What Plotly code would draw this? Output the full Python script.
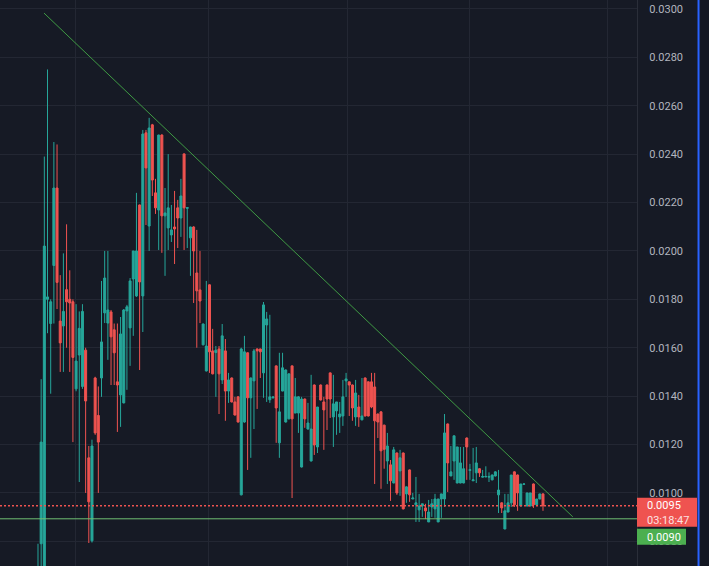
import plotly.graph_objects as go

# ---------------- data ----------------
open_ = [
    0.00620, 0.00790, 0.00600, 0.01800, 0.01700, 0.01940, 0.02260, 0.01710, 0.01690, 0.01840,
    0.01800, 0.01790, 0.01430, 0.01570, 0.01440, 0.01590, 0.01145, 0.00802, 0.01475, 0.01320,
    0.01475, 0.01744, 0.01702, 0.01748, 0.01674, 0.01459, 0.01405, 0.01372, 0.01752, 0.01682,
    0.01884, 0.01814, 0.02190, 0.01814, 0.02488, 0.02103, 0.02521, 0.02240, 0.02169, 0.02479,
    0.02145, 0.02095, 0.02066, 0.02099, 0.02178, 0.02136, 0.02401, 0.02176, 0.02054, 0.02099,
    0.01909, 0.01839, 0.01612, 0.01504, 0.01860, 0.01587, 0.01580, 0.01595, 0.01467, 0.01587,
    0.01421, 0.01475, 0.01376, 0.01397, 0.00992, 0.01293, 0.01579, 0.01393, 0.01463, 0.01595,
    0.01595, 0.01496, 0.01694, 0.01385, 0.01393, 0.01525, 0.01207, 0.01421, 0.01293, 0.01306,
    0.01525, 0.01330, 0.01330, 0.01107, 0.01388, 0.01264, 0.01132, 0.01446, 0.01190, 0.01446,
    0.01376, 0.01446, 0.01496, 0.01314, 0.01339, 0.01314, 0.01318, 0.01463, 0.01459, 0.01446,
    0.01314, 0.01355, 0.01302, 0.01475, 0.01459, 0.01459, 0.01438, 0.01326, 0.01335, 0.01280,
    0.01132, 0.01116, 0.01041, 0.01165, 0.01091, 0.01165, 0.00996, 0.01095, 0.00975, 0.00951,
    0.00930, 0.00946, 0.00938, 0.00880, 0.00942, 0.00934, 0.00880, 0.00975, 0.00975, 0.01285,
    0.01070, 0.01132, 0.01041, 0.01041, 0.01041, 0.01227, 0.01093, 0.01050, 0.01083, 0.01100,
    0.01065, 0.01066, 0.01065, 0.01054, 0.01070, 0.00992, 0.00959, 0.00851, 0.00921, 0.00959,
    0.01087, 0.01074, 0.00946, 0.01036, 0.00946, 0.00946, 0.01037, 0.00951, 0.00975, 0.00996,
]
high = [
    0.00790, 0.01470, 0.02390, 0.02750, 0.01800, 0.02450, 0.02440, 0.01900, 0.01990, 0.02110,
    0.01920, 0.01800, 0.01780, 0.01750, 0.01780, 0.01600, 0.01194, 0.01220, 0.01480, 0.01440,
    0.01876, 0.02000, 0.02000, 0.01756, 0.01700, 0.01700, 0.01727, 0.01760, 0.01777, 0.01888,
    0.02000, 0.02240, 0.02192, 0.02500, 0.02500, 0.02550, 0.02525, 0.02298, 0.02480, 0.02482,
    0.02260, 0.02400, 0.02190, 0.02248, 0.02211, 0.02298, 0.02403, 0.02180, 0.02100, 0.02102,
    0.02087, 0.02000, 0.01700, 0.01876, 0.01862, 0.01678, 0.01607, 0.01607, 0.01698, 0.01636,
    0.01496, 0.01477, 0.01397, 0.01400, 0.01600, 0.01649, 0.01581, 0.01477, 0.01595, 0.01597,
    0.01596, 0.01789, 0.01748, 0.01736, 0.01400, 0.01527, 0.01579, 0.01579, 0.01510, 0.01494,
    0.01527, 0.01475, 0.01400, 0.01397, 0.01390, 0.01372, 0.01488, 0.01448, 0.01355, 0.01448,
    0.01397, 0.01448, 0.01498, 0.01488, 0.01376, 0.01376, 0.01467, 0.01496, 0.01460, 0.01448,
    0.01467, 0.01405, 0.01475, 0.01477, 0.01461, 0.01496, 0.01496, 0.01328, 0.01337, 0.01282,
    0.01248, 0.01136, 0.01190, 0.01167, 0.01178, 0.01167, 0.01027, 0.01097, 0.01000, 0.01066,
    0.00996, 0.00955, 0.00955, 0.00971, 0.00975, 0.00996, 0.00975, 0.00996, 0.01326, 0.01287,
    0.01194, 0.01236, 0.01190, 0.01190, 0.01190, 0.01229, 0.01120, 0.01186, 0.01190, 0.01102,
    0.01095, 0.01110, 0.01085, 0.01076, 0.01089, 0.01095, 0.00961, 0.00996, 0.00996, 0.01074,
    0.01089, 0.01076, 0.01037, 0.01038, 0.01000, 0.01000, 0.01039, 0.00975, 0.00996, 0.00998,
]
low = [
    0.00600, 0.00650, 0.00550, 0.01660, 0.01410, 0.01700, 0.01760, 0.01500, 0.01500, 0.01600,
    0.01500, 0.01210, 0.01420, 0.01045, 0.01430, 0.01000, 0.00793, 0.00795, 0.01240, 0.01000,
    0.01397, 0.01702, 0.01550, 0.01446, 0.01446, 0.01252, 0.01273, 0.01370, 0.01426, 0.01525,
    0.01649, 0.01810, 0.01508, 0.01665, 0.02107, 0.02000, 0.02227, 0.02153, 0.02004, 0.01992,
    0.01897, 0.02004, 0.02037, 0.01946, 0.02012, 0.02058, 0.02004, 0.02012, 0.01897, 0.01785,
    0.01600, 0.01702, 0.01610, 0.01502, 0.01496, 0.01490, 0.01397, 0.01326, 0.01450, 0.01298,
    0.01372, 0.01374, 0.01320, 0.01291, 0.00990, 0.01290, 0.01095, 0.01145, 0.01264, 0.01347,
    0.01475, 0.01393, 0.01376, 0.01372, 0.01390, 0.01207, 0.01145, 0.01420, 0.01291, 0.01304,
    0.00979, 0.01330, 0.01248, 0.01105, 0.01269, 0.01262, 0.01130, 0.01157, 0.01165, 0.01382,
    0.01178, 0.01260, 0.01310, 0.01190, 0.01240, 0.01248, 0.01277, 0.01397, 0.01318, 0.01298,
    0.01277, 0.01273, 0.01300, 0.01316, 0.01316, 0.01350, 0.01037, 0.01227, 0.01017, 0.01100,
    0.01037, 0.00967, 0.01040, 0.00992, 0.00988, 0.00932, 0.00959, 0.00963, 0.00974, 0.00880,
    0.00880, 0.00901, 0.00892, 0.00880, 0.00901, 0.00897, 0.00880, 0.00897, 0.00942, 0.01004,
    0.01070, 0.01054, 0.01040, 0.01040, 0.01040, 0.01054, 0.01054, 0.01050, 0.01041, 0.01066,
    0.01064, 0.01065, 0.01045, 0.01052, 0.01068, 0.00917, 0.00917, 0.00850, 0.00920, 0.00942,
    0.00942, 0.00926, 0.00945, 0.01035, 0.00945, 0.00945, 0.00938, 0.00950, 0.00974, 0.00926,
]
close = [
    0.00680, 0.01210, 0.02020, 0.01810, 0.01790, 0.02260, 0.01870, 0.01620, 0.01750, 0.01790,
    0.01785, 0.01560, 0.01545, 0.01680, 0.01750, 0.01380, 0.00963, 0.01194, 0.01248, 0.01210,
    0.01624, 0.01888, 0.01756, 0.01645, 0.01579, 0.01446, 0.01657, 0.01756, 0.01769, 0.01876,
    0.02000, 0.02000, 0.01872, 0.02483, 0.02343, 0.02508, 0.02293, 0.02178, 0.02479, 0.02145,
    0.02157, 0.02178, 0.02087, 0.02091, 0.02136, 0.02227, 0.02178, 0.02179, 0.02099, 0.02000,
    0.01835, 0.01793, 0.01698, 0.01607, 0.01583, 0.01492, 0.01590, 0.01492, 0.01649, 0.01421,
    0.01467, 0.01376, 0.01322, 0.01293, 0.01595, 0.01583, 0.01393, 0.01475, 0.01587, 0.01587,
    0.01583, 0.01777, 0.01719, 0.01397, 0.01396, 0.01351, 0.01335, 0.01517, 0.01508, 0.01492,
    0.01306, 0.01397, 0.01397, 0.01388, 0.01306, 0.01289, 0.01264, 0.01198, 0.01355, 0.01384,
    0.01343, 0.01388, 0.01388, 0.01368, 0.01376, 0.01326, 0.01397, 0.01471, 0.01446, 0.01351,
    0.01413, 0.01314, 0.01318, 0.01318, 0.01318, 0.01355, 0.01298, 0.01293, 0.01174, 0.01180,
    0.01194, 0.01050, 0.01178, 0.01000, 0.01145, 0.00934, 0.01025, 0.00992, 0.00979, 0.00959,
    0.00946, 0.00955, 0.00926, 0.00921, 0.00955, 0.00975, 0.00975, 0.00996, 0.01248, 0.01124,
    0.01087, 0.01236, 0.01190, 0.01124, 0.01100, 0.01190, 0.01096, 0.01054, 0.01124, 0.01083,
    0.01068, 0.01068, 0.01068, 0.01074, 0.01087, 0.01012, 0.00938, 0.00926, 0.00959, 0.01074,
    0.00951, 0.01000, 0.01037, 0.01037, 0.01000, 0.01000, 0.00951, 0.00975, 0.00996, 0.00947,
]
bar_index = list(range(len(close)))

trend_x = [1.89, 168.4]
trend_y = [0.02983, 0.00901]

time_grid = [11.96, 53.8, 97.3, 136.0, 179.2]
price_ticks = [0.008, 0.010, 0.012, 0.014, 0.016, 0.018, 0.020,
               0.022, 0.024, 0.026, 0.028, 0.030]
price_labels = ["0.0080", "0.0100", "0.0120", "0.0140", "0.0160", "0.0180",
                "0.0200", "0.0220", "0.0240", "0.0260", "0.0280", "0.0300"]

last_price = close[-1]
last_price_label = "0.0095"
countdown_label = "03:18:47"
level_price = 0.00893
level_label = "0.0090"

# ---------------- style ----------------
BG = "#161a25"
GRID = "#232733"
UP = "#26a69a"
DN = "#ef5350"
GREEN = "#4caf50"
FONT = "Roboto"

fig = go.Figure()
fig.add_trace(go.Candlestick(
    x=bar_index, open=open_, high=high, low=low, close=close,
    increasing=dict(line=dict(color=UP, width=1), fillcolor=UP),
    decreasing=dict(line=dict(color=DN, width=1), fillcolor=DN),
    whiskerwidth=0, hoverinfo="skip", showlegend=False,
))
fig.add_trace(go.Scatter(
    x=trend_x, y=trend_y, mode="lines",
    line=dict(color="#3f9a44", width=1), hoverinfo="skip", showlegend=False,
))

shapes = [
    dict(type="line", xref="paper", x0=0, x1=1, yref="y", y0=last_price, y1=last_price,
         line=dict(color=DN, width=1.3, dash="2px,2px"), layer="above"),
    dict(type="line", xref="paper", x0=0, x1=1, yref="y", y0=level_price, y1=level_price,
         line=dict(color="#6fbf72", width=1), layer="above"),
    dict(type="rect", xref="paper", xsizemode="pixel", xanchor=1, x0=0, x1=60,
         yref="y", ysizemode="pixel", yanchor=last_price, y0=8, y1=-21,
         fillcolor=DN, line=dict(width=0), layer="above"),
    dict(type="rect", xref="paper", xsizemode="pixel", xanchor=1, x0=0, x1=49,
         yref="y", ysizemode="pixel", yanchor=level_price, y0=-10, y1=-26,
         fillcolor=GREEN, line=dict(width=0), layer="above"),
    dict(type="line", xref="paper", x0=1.0966, x1=1.0966, yref="paper", y0=0, y1=1,
         line=dict(color="#2962ff", width=2), layer="above"),
    dict(type="rect", xref="paper", x0=1.0995, x1=1.13, yref="paper", y0=0, y1=1,
         fillcolor="#131722", line=dict(width=0), layer="above"),
]

annotations = [
    dict(text=last_price_label, xref="paper", x=1, xanchor="left", xshift=8,
         yref="y", y=last_price, yanchor="middle", showarrow=False,
         font=dict(family=FONT, size=11, color="#ffffff")),
    dict(text=countdown_label, xref="paper", x=1, xanchor="left", xshift=8,
         yref="y", y=last_price, yanchor="middle", yshift=-14.5, showarrow=False,
         font=dict(family=FONT, size=11, color="#fde2e2")),
    dict(text=level_label, xref="paper", x=1, xanchor="left", xshift=8,
         yref="y", y=level_price, yanchor="middle", yshift=-18.5, showarrow=False,
         font=dict(family=FONT, size=11, color="#ffffff")),
]

fig.update_layout(
    width=709, height=566,
    margin=dict(l=0, r=72, t=0, b=0),
    paper_bgcolor=BG, plot_bgcolor=BG,
    showlegend=False,
    boxgap=0.1,
    shapes=shapes, annotations=annotations,
    xaxis=dict(
        range=[-11.96, 188.6], tickvals=time_grid, showticklabels=False,
        showgrid=True, gridcolor=GRID, gridwidth=1, zeroline=False,
        showline=False, ticks="", rangeslider=dict(visible=False), fixedrange=True,
    ),
    yaxis=dict(
        side="right", range=[0.00698, 0.03037],
        tickvals=price_ticks, ticktext=price_labels,
        showgrid=True, gridcolor=GRID, gridwidth=1, zeroline=False,
        showline=True, linecolor="#2a2e39", linewidth=1,
        ticks="", ticklabelstandoff=9,
        tickfont=dict(family=FONT, size=11, color="#b2b5be"),
        fixedrange=True,
    ),
)

fig.write_html(
    "out.html",
    config={"displayModeBar": False},
    post_script="document.body.style.margin='0';document.body.style.background='#161a25';",
)
